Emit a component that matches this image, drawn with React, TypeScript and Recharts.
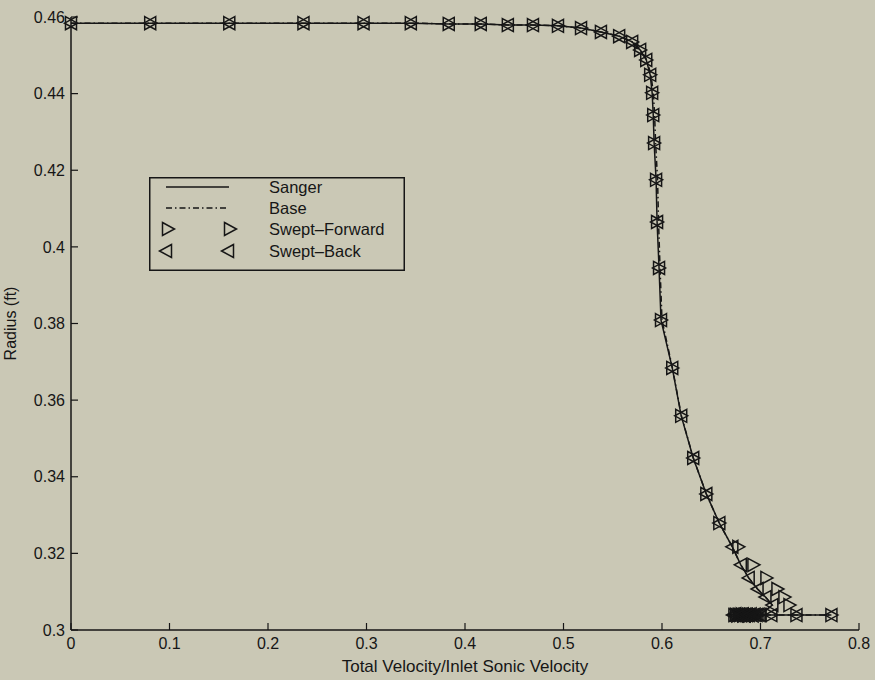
import { ScatterChart, Scatter, XAxis, YAxis, Legend } from 'recharts';

// velocity / radius pairs
const sangerV = [0, 0.0804, 0.1607, 0.236, 0.297, 0.345, 0.3835, 0.416, 0.4435, 0.469, 0.4944, 0.5178, 0.538, 0.5565, 0.5697, 0.5778, 0.584, 0.588, 0.59, 0.5911, 0.592, 0.594, 0.595, 0.597, 0.599, 0.6104, 0.6195, 0.6317, 0.645, 0.6582, 0.6714, 0.68, 0.688, 0.697, 0.705, 0.712, 0.7, 0.686, 0.674, 0.711, 0.7365, 0.772];
const sangerR = [0.4584, 0.4584, 0.4584, 0.4584, 0.4584, 0.4584, 0.4582, 0.4582, 0.4579, 0.4579, 0.4577, 0.4571, 0.4561, 0.455, 0.4535, 0.4514, 0.4488, 0.4449, 0.4402, 0.4344, 0.4271, 0.4175, 0.4065, 0.3945, 0.3809, 0.3684, 0.3559, 0.3449, 0.3355, 0.3279, 0.3217, 0.317, 0.3136, 0.3107, 0.3086, 0.3065, 0.3041, 0.3039, 0.3039, 0.3039, 0.3039, 0.3039];

const baseV = [0, 0.0804, 0.1607, 0.236, 0.297, 0.345, 0.3835, 0.416, 0.4435, 0.469, 0.4944, 0.5178, 0.538, 0.5565, 0.5697, 0.578, 0.5845, 0.5888, 0.5912, 0.5925, 0.5935, 0.5955, 0.5965, 0.598, 0.6, 0.6106, 0.6197, 0.6318, 0.645, 0.6582, 0.6714, 0.68, 0.688, 0.697, 0.705, 0.712, 0.7, 0.686, 0.674, 0.711, 0.7365, 0.772];
const baseR = sangerR;

const fwdV = [0, 0.0804, 0.1607, 0.236, 0.297, 0.345, 0.3835, 0.416, 0.4435, 0.469, 0.4944, 0.5178, 0.538, 0.5565, 0.5697, 0.5778, 0.584, 0.588, 0.59, 0.5911, 0.592, 0.594, 0.595, 0.597, 0.599, 0.6104, 0.6195, 0.6317, 0.645, 0.6582, 0.6775, 0.6928, 0.706, 0.7172, 0.7243, 0.7294, 0.6735, 0.675, 0.6765, 0.678, 0.6795, 0.681, 0.6825, 0.684, 0.6855, 0.687, 0.6885, 0.69, 0.6915, 0.693, 0.6945, 0.696, 0.698, 0.711, 0.7365, 0.772];
const fwdR = [0.4584, 0.4584, 0.4584, 0.4584, 0.4584, 0.4584, 0.4582, 0.4582, 0.4579, 0.4579, 0.4577, 0.4571, 0.4561, 0.455, 0.4535, 0.4514, 0.4488, 0.4449, 0.4402, 0.4344, 0.4271, 0.4175, 0.4065, 0.3945, 0.3809, 0.3684, 0.3559, 0.3449, 0.3355, 0.3279, 0.3217, 0.317, 0.3136, 0.3107, 0.3086, 0.3065, 0.3039, 0.304, 0.3038, 0.304, 0.3039, 0.3041, 0.3038, 0.304, 0.3039, 0.3041, 0.3038, 0.304, 0.3039, 0.304, 0.3038, 0.304, 0.3039, 0.3039, 0.3039, 0.3039];

const backV = [0, 0.0804, 0.1607, 0.236, 0.297, 0.345, 0.3835, 0.416, 0.4435, 0.469, 0.4944, 0.5178, 0.538, 0.5565, 0.5697, 0.5778, 0.584, 0.588, 0.59, 0.5911, 0.592, 0.594, 0.595, 0.597, 0.599, 0.6104, 0.6195, 0.6317, 0.645, 0.6582, 0.6714, 0.68, 0.688, 0.697, 0.705, 0.712, 0.672, 0.674, 0.676, 0.678, 0.68, 0.682, 0.684, 0.686, 0.688, 0.69, 0.692, 0.694, 0.696, 0.698, 0.7, 0.711, 0.7365, 0.772];
const backR = [0.4584, 0.4584, 0.4584, 0.4584, 0.4584, 0.4584, 0.4582, 0.4582, 0.4579, 0.4579, 0.4577, 0.4571, 0.4561, 0.455, 0.4535, 0.4514, 0.4488, 0.4449, 0.4402, 0.4344, 0.4271, 0.4175, 0.4065, 0.3945, 0.3809, 0.3684, 0.3559, 0.3449, 0.3355, 0.3279, 0.3217, 0.317, 0.3136, 0.3107, 0.3086, 0.3065, 0.3039, 0.3041, 0.3038, 0.304, 0.3039, 0.3041, 0.3038, 0.304, 0.3039, 0.3041, 0.3038, 0.304, 0.3039, 0.304, 0.3039, 0.3039, 0.3039, 0.3039];

const xTicks = [0, 0.1, 0.2, 0.3, 0.4, 0.5, 0.6, 0.7, 0.8];
const yTicks = [0.3, 0.32, 0.34, 0.36, 0.38, 0.4, 0.42, 0.44, 0.46];
const seriesNames = ['Sanger', 'Base', 'Swept\u2013Forward', 'Swept\u2013Back'];

const ink = '#161616';
const bg = '#cac8b5';
const font = '"Liberation Sans", Arial, sans-serif';

const pairs = (v: number[], r: number[]) => v.map((x, i) => ({ v: x, r: r[i] }));

const fmt = (n: number) => String(Number(n.toFixed(2)));

const noDot = () => <g />;

function triRight(p: any) {
    const { cx, cy } = p;
    return <path d={`M${cx - 5.5},${cy - 6.5}L${cx + 6.5},${cy}L${cx - 5.5},${cy + 6.5}Z`} fill="none" stroke={ink} strokeWidth={1.5} />;
}

function triLeft(p: any) {
    const { cx, cy } = p;
    return <path d={`M${cx + 5.5},${cy - 6.5}L${cx - 6.5},${cy}L${cx + 5.5},${cy + 6.5}Z`} fill="none" stroke={ink} strokeWidth={1.5} />;
}

function LegendBox() {
    const rowY = [10, 31, 52, 74];
    return (
        <svg width={256} height={94} style={{ display: 'block' }}>
            <rect x={0.75} y={0.75} width={254.5} height={92.5} fill={bg} stroke={ink} strokeWidth={1.5} />
            <line x1={17} x2={80} y1={rowY[0]} y2={rowY[0]} stroke={ink} strokeWidth={1.4} />
            <line x1={17} x2={80} y1={rowY[1]} y2={rowY[1]} stroke={ink} strokeWidth={1.4} strokeDasharray="6 3 1.5 3" />
            {triRight({ cx: 19, cy: rowY[2] })}
            {triRight({ cx: 81, cy: rowY[2] })}
            {triLeft({ cx: 17, cy: rowY[3] })}
            {triLeft({ cx: 79, cy: rowY[3] })}
            {seriesNames.map((n, i) => (
                <text key={n} x={120} y={rowY[i]} dy="0.35em" fontSize={16.5} fontFamily={font} fill={ink}>{n}</text>
            ))}
        </svg>
    );
}

export default function App() {
    const tickStyle = { fill: ink, fontSize: 16, fontFamily: font };
    return (
        <div style={{ position: 'absolute', left: 0, top: 0, width: 875, height: 680, background: bg }}>
            <ScatterChart width={875} height={680} margin={{ top: 17, right: 16, left: 0, bottom: 0 }}>
                <XAxis
                    type="number" dataKey="v" domain={[0, 0.8]} ticks={xTicks} tickFormatter={fmt}
                    height={50} tickSize={-7} tickMargin={15} tick={tickStyle}
                    axisLine={{ stroke: ink, strokeWidth: 1.5 }} tickLine={{ stroke: ink, strokeWidth: 1.2 }}
                    label={{ value: 'Total Velocity/Inlet Sonic Velocity', position: 'insideBottom', offset: 8, fill: ink, fontSize: 17, fontFamily: font }}
                />
                <XAxis
                    xAxisId="top" orientation="top" type="number" domain={[0, 0.8]} ticks={xTicks}
                    height={0} tickSize={-7} tickFormatter={() => ''}
                    axisLine={{ stroke: ink, strokeWidth: 1.5 }} tickLine={{ stroke: ink, strokeWidth: 1.2 }}
                />
                <YAxis
                    type="number" dataKey="r" domain={[0.3, 0.46]} ticks={yTicks} tickFormatter={fmt}
                    width={71} tickSize={-7} tickMargin={13} tick={tickStyle}
                    axisLine={{ stroke: ink, strokeWidth: 1.5 }} tickLine={{ stroke: ink, strokeWidth: 1.2 }}
                    label={{ value: 'Radius (ft)', angle: -90, position: 'insideLeft', offset: 10, fill: ink, fontSize: 16, fontFamily: font, style: { textAnchor: 'middle' } }}
                />
                <YAxis
                    yAxisId="right" orientation="right" type="number" domain={[0.3, 0.46]} ticks={yTicks}
                    width={0} tickSize={-7} tickFormatter={() => ''}
                    axisLine={{ stroke: ink, strokeWidth: 1.5 }} tickLine={{ stroke: ink, strokeWidth: 1.2 }}
                />
                <Legend
                    layout="vertical" align="center" verticalAlign="middle"
                    wrapperStyle={{ left: 149, top: 177, width: 256, height: 94 }}
                    content={() => <LegendBox />}
                />
                <Scatter name="Sanger" data={pairs(sangerV, sangerR)} line={{ stroke: ink, strokeWidth: 1.5 }} lineType="joint" shape={noDot} isAnimationActive={false} />
                <Scatter name="Base" data={pairs(baseV, baseR)} line={{ stroke: ink, strokeWidth: 1.5, strokeDasharray: '6 3 1.5 3' }} lineType="joint" shape={noDot} isAnimationActive={false} />
                <Scatter name="Swept-Forward" data={pairs(fwdV, fwdR)} shape={triRight} isAnimationActive={false} />
                <Scatter name="Swept-Back" data={pairs(backV, backR)} shape={triLeft} isAnimationActive={false} />
            </ScatterChart>
        </div>
    );
}
